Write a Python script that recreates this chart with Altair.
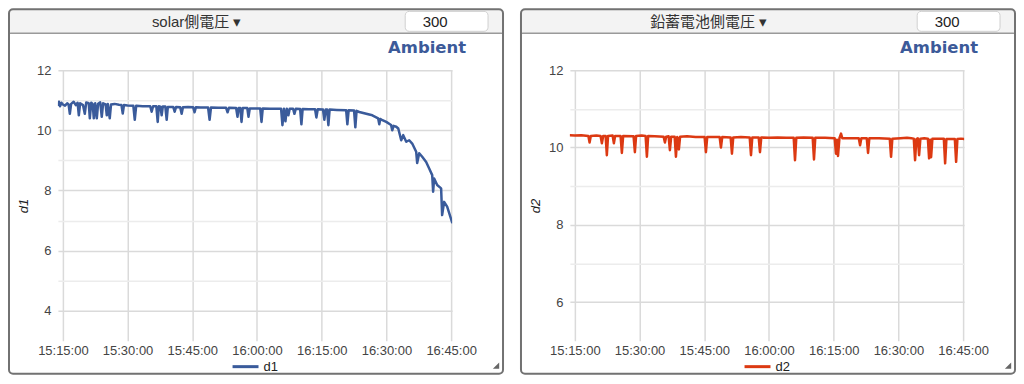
import altair as alt
import pandas as pd

FONT = "Liberation Sans, Arial, 'Noto Sans CJK JP', sans-serif"

# ---- data ----
x_domain = ["15:13:51", "16:45:14"]
x_ticks = ["15:15:00", "15:30:00", "15:45:00", "16:00:00", "16:15:00", "16:30:00", "16:45:00"]

d1_time = [
    "15:13:51", "15:14:05", "15:14:20", "15:14:40", "15:15:00", "15:15:30", "15:16:00", "15:16:20",
    "15:16:37", "15:16:55", "15:17:30", "15:18:00", "15:18:25", "15:18:42", "15:19:00", "15:19:40",
    "15:20:05", "15:20:25", "15:21:00", "15:21:15", "15:21:35", "15:21:55", "15:22:10", "15:22:30",
    "15:22:52", "15:23:10", "15:23:40", "15:24:01", "15:24:20", "15:24:55", "15:25:11", "15:25:25",
    "15:25:52", "15:26:10", "15:27:00", "15:28:00", "15:28:35", "15:28:53", "15:29:10", "15:30:00",
    "15:31:20", "15:31:40", "15:32:00", "15:33:30", "15:35:15", "15:35:35", "15:35:55", "15:36:40",
    "15:36:59", "15:37:15", "15:37:38", "15:37:54", "15:38:10", "15:38:45", "15:39:04", "15:39:20",
    "15:40:35", "15:40:55", "15:41:15", "15:42:12", "15:42:32", "15:42:50", "15:44:00", "15:45:12",
    "15:45:32", "15:45:50", "15:47:00", "15:48:40", "15:49:01", "15:49:20", "15:51:00", "15:52:50",
    "15:53:11", "15:53:30", "15:55:10", "15:55:29", "15:55:45", "15:56:08", "15:56:25", "15:56:42",
    "15:57:45", "15:58:02", "15:58:20", "16:00:00", "16:00:45", "16:01:03", "16:01:20", "16:03:00",
    "16:05:35", "16:05:54", "16:06:15", "16:06:36", "16:06:55", "16:07:17", "16:07:35", "16:08:22",
    "16:08:41", "16:09:00", "16:10:00", "16:10:18", "16:10:35", "16:12:00", "16:13:28", "16:13:46",
    "16:14:05", "16:15:18", "16:15:37", "16:15:55", "16:16:15", "16:16:33", "16:16:50", "16:18:30",
    "16:20:40", "16:20:57", "16:21:15", "16:22:30", "16:22:48", "16:23:05", "16:23:43", "16:26:44",
    "16:28:05", "16:28:21", "16:28:35", "16:28:49", "16:29:58", "16:31:05", "16:31:21", "16:31:40",
    "16:32:17", "16:32:45", "16:33:26", "16:33:54", "16:34:36", "16:35:17", "16:35:59", "16:36:54",
    "16:37:08", "16:37:36", "16:38:18", "16:39:13", "16:39:55", "16:40:37", "16:40:50", "16:41:04",
    "16:41:46", "16:42:41", "16:42:55", "16:43:23", "16:44:05", "16:45:14",
]
d1_value = [
    10.85, 10.95, 10.80, 10.92, 10.86, 10.82, 10.90, 10.86,
    10.55, 10.88, 10.95, 10.84, 10.92, 10.50, 10.90, 10.84,
    10.55, 10.93, 10.90, 10.40, 10.92, 10.88, 10.40, 10.90,
    10.40, 10.88, 10.93, 10.45, 10.90, 10.86, 10.50, 10.88,
    10.40, 10.86, 10.88, 10.85, 10.84, 10.56, 10.84, 10.83,
    10.82, 10.35, 10.82, 10.80, 10.80, 10.62, 10.80, 10.80,
    10.28, 10.80, 10.79, 10.50, 10.79, 10.79, 10.35, 10.78,
    10.78, 10.62, 10.78, 10.77, 10.55, 10.77, 10.78, 10.77,
    10.60, 10.77, 10.76, 10.76, 10.35, 10.76, 10.75, 10.75,
    10.60, 10.75, 10.74, 10.45, 10.74, 10.74, 10.28, 10.74,
    10.74, 10.45, 10.73, 10.73, 10.73, 10.28, 10.73, 10.72,
    10.72, 10.17, 10.72, 10.30, 10.72, 10.50, 10.72, 10.72,
    10.55, 10.72, 10.71, 10.20, 10.71, 10.70, 10.70, 10.43,
    10.70, 10.69, 10.35, 10.69, 10.69, 10.17, 10.69, 10.68,
    10.67, 10.20, 10.67, 10.66, 10.10, 10.65, 10.61, 10.50,
    10.40, 10.20, 10.38, 10.36, 10.28, 10.18, 10.00, 10.15,
    10.12, 10.06, 9.67, 9.84, 9.62, 9.67, 9.56, 9.29,
    8.91, 9.24, 9.12, 8.95, 8.73, 8.51, 7.96, 8.40,
    8.18, 8.07, 7.18, 7.62, 7.46, 6.94,
]

d2_time = [
    "15:13:51", "15:15:00", "15:16:30", "15:18:08", "15:18:25", "15:18:42", "15:20:00", "15:20:58",
    "15:21:16", "15:21:34", "15:22:08", "15:22:25", "15:22:42", "15:23:45", "15:24:03", "15:24:20",
    "15:25:36", "15:25:54", "15:26:12", "15:28:37", "15:28:55", "15:29:12", "15:30:30", "15:31:24",
    "15:31:42", "15:32:00", "15:33:30", "15:35:35", "15:35:53", "15:36:10", "15:36:44", "15:37:02",
    "15:37:20", "15:38:08", "15:38:26", "15:38:44", "15:38:54", "15:39:07", "15:39:24", "15:41:00",
    "15:43:00", "15:45:05", "15:45:23", "15:45:41", "15:48:34", "15:48:52", "15:49:10", "15:51:07",
    "15:51:25", "15:51:43", "15:53:30", "15:55:32", "15:55:50", "15:56:08", "15:57:37", "15:57:55",
    "15:58:13", "16:00:00", "16:02:00", "16:04:00", "16:05:44", "16:06:02", "16:06:20", "16:08:00",
    "16:10:08", "16:10:26", "16:10:44", "16:13:00", "16:15:14", "16:15:32", "16:15:46", "16:16:00",
    "16:16:20", "16:16:42", "16:17:00", "16:19:00", "16:20:49", "16:21:07", "16:21:25", "16:22:40",
    "16:22:58", "16:23:16", "16:25:30", "16:28:00", "16:28:18", "16:28:36", "16:30:30", "16:32:00",
    "16:33:00", "16:33:34", "16:33:52", "16:34:10", "16:34:30", "16:34:48", "16:35:06", "16:36:00",
    "16:36:50", "16:37:07", "16:37:21", "16:37:35", "16:37:53", "16:39:00", "16:40:32", "16:40:50",
    "16:41:08", "16:43:05", "16:43:23", "16:43:41", "16:44:30", "16:45:14",
]
d2_value = [
    10.32, 10.31, 10.32, 10.30, 10.13, 10.30, 10.31, 10.30,
    10.11, 10.30, 10.30, 9.80, 10.30, 10.31, 10.11, 10.30,
    10.30, 9.86, 10.30, 10.29, 9.88, 10.30, 10.31, 10.30,
    9.76, 10.30, 10.29, 10.28, 10.13, 10.28, 10.29, 9.93,
    10.28, 10.28, 9.76, 10.27, 10.24, 9.95, 10.28, 10.29,
    10.27, 10.27, 9.88, 10.27, 10.27, 10.00, 10.27, 10.26,
    9.84, 10.26, 10.27, 10.26, 9.80, 10.26, 10.26, 9.88,
    10.26, 10.25, 10.26, 10.25, 10.25, 9.67, 10.25, 10.26,
    10.25, 9.69, 10.25, 10.25, 10.24, 9.84, 10.20, 9.78,
    10.24, 10.36, 10.24, 10.24, 10.24, 10.06, 10.24, 10.24,
    9.86, 10.24, 10.24, 10.23, 9.76, 10.23, 10.24, 10.25,
    10.24, 10.23, 9.67, 10.22, 10.24, 9.80, 10.23, 10.24,
    10.23, 9.72, 10.20, 9.75, 10.23, 10.23, 10.23, 9.59,
    10.22, 10.22, 9.63, 10.22, 10.23, 10.22,
]

d1_yticks = [4, 5, 6, 7, 8, 9, 10, 11, 12]
d2_yticks = [6, 7, 8, 9, 10, 11, 12]

W, H = 395, 271


def dt(s):
    h, m, sec = (int(p) for p in s.split(":"))
    return alt.DateTime(year=2024, month=1, date=1, hours=h, minutes=m, seconds=sec)


one = pd.DataFrame({"k": [0]})


def panel(times, values, color, header, ytitle, ydomain, yvals, legend_label):
    df = pd.DataFrame({"t": ["2024-01-01T" + s for s in times], "v": values})
    L, R, T, B = -49, 446, -61, 304

    header_bg = alt.Chart(one).mark_rect(fill="#f3f3f3", cornerRadius=4).encode(
        x=alt.value(L), x2=alt.value(R), y=alt.value(T), y2=alt.value(-37))
    header_line = alt.Chart(one).mark_rule(color="#9a9a9a", strokeWidth=1.5).encode(
        x=alt.value(L), x2=alt.value(R), y=alt.value(-37))
    border = alt.Chart(one).mark_rect(filled=False, stroke="#727272", strokeWidth=2, cornerRadius=4).encode(
        x=alt.value(L), x2=alt.value(R), y=alt.value(T), y2=alt.value(B))
    header_text = alt.Chart(one).mark_text(
        text=header + " ▾", font=FONT, fontSize=15, color="#333", align="center", baseline="middle"
    ).encode(x=alt.value(139), y=alt.value(-48))
    box = alt.Chart(one).mark_rect(fill="white", stroke="#cfcfcf", strokeWidth=1, cornerRadius=4).encode(
        x=alt.value(348), x2=alt.value(431), y=alt.value(-59), y2=alt.value(-39))
    box_text = alt.Chart(one).mark_text(
        text="300", font=FONT, fontSize=15, color="#222", align="center", baseline="middle"
    ).encode(x=alt.value(378), y=alt.value(-48))
    ambient = alt.Chart(one).mark_text(
        text="Ambient", font="DejaVu Sans", fontSize=16.5, fontWeight="bold", color="#3c5a99",
        align="right", baseline="middle"
    ).encode(x=alt.value(409), y=alt.value(-22))
    grip = alt.Chart(one).mark_point(
        shape="M 1 -1 L 1 1 L -1 1 Z", filled=True, size=40, color="#666", opacity=1
    ).encode(x=alt.value(439), y=alt.value(296))
    leg_rule = alt.Chart(one).mark_rule(color=color, strokeWidth=3).encode(
        x=alt.value(175), x2=alt.value(201), y=alt.value(297))
    leg_text = alt.Chart(one).mark_text(
        text=legend_label, font=FONT, fontSize=13, color="#222", align="left", baseline="middle"
    ).encode(x=alt.value(206), y=alt.value(297))

    grid_color = {"condition": {"test": "datum.value % 2 === 0", "value": "#dadada"}, "value": "#ececec"}

    line = alt.Chart(df).mark_line(
        color=color, strokeWidth=2.5, strokeJoin="round", strokeCap="round", clip=True
    ).encode(
        x=alt.X(
            "t:T",
            scale=alt.Scale(domain=[dt(x_domain[0]), dt(x_domain[1])], nice=False),
            axis=alt.Axis(
                values=[dt(s) for s in x_ticks], format="%H:%M:%S", title=None,
                domain=False, ticks=False, tickSize=0, labelPadding=4, labelFlush=False,
                gridColor="#dadada", gridWidth=1.5, labelFont=FONT, labelFontSize=13,
                labelColor="#444", labelOverlap=False,
            ),
        ),
        y=alt.Y(
            "v:Q",
            scale=alt.Scale(domain=ydomain, nice=False, zero=False),
            axis=alt.Axis(
                values=yvals, labelExpr="datum.value % 2 === 0 ? datum.label : ''",
                gridColor=grid_color, gridWidth=1.5, domain=False, ticks=False, tickSize=0,
                labelPadding=7, labelFont=FONT, labelFontSize=13, labelColor="#444",
                title=ytitle, titleFont=FONT, titleFontSize=13, titleFontStyle="italic",
                titleFontWeight="normal", titleColor="#222", titleX=-34, titleY=H / 2,
                titleAngle=270, titleAlign="center", titleBaseline="middle",
            ),
        ),
    )

    return alt.layer(
        header_bg, header_line, border, header_text, box, box_text, ambient, grip,
        leg_rule, leg_text, line
    ).properties(width=W, height=H)


left = panel(d1_time, d1_value, "#3a5b9b", "solar側電圧", "d1", [3, 12], d1_yticks, "d1")
right = panel(d2_time, d2_value, "#dc3912", "鉛蓄電池側電圧", "d2", [5, 12], d2_yticks, "d2")

chart = alt.hconcat(left, right, spacing=118, bounds="flush").configure_view(
    stroke=None
).properties(padding=0, background="white")

chart.save("out.html", embed_options={"renderer": "svg", "actions": False})
